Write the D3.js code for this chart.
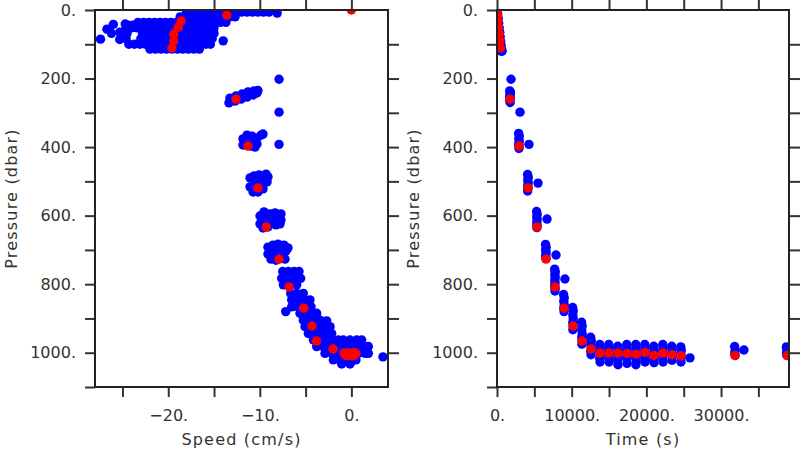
<!DOCTYPE html>
<html><head><meta charset="utf-8">
<script src="https://cdn.jsdelivr.net/npm/d3@7/dist/d3.min.js"></script>
<style>body{margin:0;background:#fff} text{font-family:"DejaVu Sans",sans-serif}</style>
</head><body><svg id="c" width="800" height="450"></svg>
<script>
// ---------- axis ticks / labels ----------
const pressureTicks = [0,100,200,300,400,500,600,700,800,900,1000,1100];
const pressureLabels = [0,200,400,600,800,1000];
const speedTicks = [-25,-20,-15,-10,-5,0];
const speedLabels = [-20,-10,0];
const timeTicks = [0,5000,10000,15000,20000,25000,30000,35000];
const timeLabels = [0,10000,20000,30000];

// ---------- mean (red) points: shared pressure, speed, time ----------
const meanPressure = [0,15,32,50,70,90,111,260,397,519,633,727,808,870,922,966,989,
  1001,1001,1001,1002,1004,999,1008,1001,1006,1009,1008,1008];
const meanSpeed = [0,-13.6,-18.6,-18.9,-19.4,-19.4,-19.6,-12.6,-11.3,-10.2,-9.3,-7.9,-6.8,-5.2,-4.3,-3.8,-2.0,
  -0.8,-0.4,0.0,0.5,-0.5,0.2,-0.3,0.4,-0.1,0.1,-0.6,0.3];
const meanTime = [0,70,140,220,300,380,460,1740,2950,4150,5360,6560,7770,8970,10180,11380,12590,
  13790,15000,16200,17400,18610,19820,21020,22230,23430,24640,31870,38850];

// ---------- individual samples (blue): [speed, pressure] ----------
const speedSamples = [
  [-18.0,6],[-17.4,6],[-16.8,6],[-16.2,6],[-15.6,6],[-15.0,6],[-14.4,6],[-13.8,6],[-13.2,6],[-12.6,6],[-12.0,6],[-11.4,6],[-10.8,6],[-10.2,6],[-9.6,6],[-9.0,6],[-8.1,9],
  [-18.7,20],[-18.1,20],[-17.5,20],[-16.9,20],[-16.3,20],[-15.7,20],[-15.1,20],[-14.5,20],[-13.9,20],[-13.3,20],[-12.7,20],
  [-23.3,36],[-22.7,36],[-22.1,36],[-21.5,36],[-20.9,36],[-20.3,36],[-19.7,36],[-19.1,36],[-18.5,36],[-17.9,36],[-17.3,36],[-16.7,36],[-16.1,36],[-15.5,36],[-14.9,36],[-14.3,36],[-13.7,36],
  [-24.4,44],[-23.9,44],
  [-24.6,52],[-24.0,52],[-23.4,52],[-22.8,52],[-22.2,52],[-21.6,52],[-21.0,52],[-20.4,52],[-19.8,52],[-19.2,52],[-18.6,52],[-18.0,52],[-17.4,52],[-16.8,52],[-16.2,52],[-15.6,52],[-15.0,52],
  [-24.5,68],[-22.8,68],[-22.2,68],[-21.6,68],[-21.0,68],[-20.4,68],[-19.8,68],[-19.2,68],[-18.6,68],[-18.0,68],[-17.4,68],[-16.8,68],[-16.2,68],[-15.6,68],[-15.0,68],
  [-24.6,84],[-23.0,84],[-22.4,84],[-21.8,84],[-21.2,84],[-20.6,84],[-20.0,84],[-19.4,84],[-18.8,84],[-18.2,84],[-17.6,84],[-17.0,84],[-16.4,84],[-15.8,84],[-15.2,84],[-14.0,90],
  [-24.3,100],[-23.7,100],[-23.1,100],[-22.5,100],[-21.9,100],[-21.3,100],[-20.7,100],[-20.1,100],[-19.5,100],[-18.9,100],[-18.3,100],[-17.7,100],[-17.1,100],[-16.5,100],[-15.9,100],[-15.4,100],
  [-22.0,114],[-21.4,114],[-20.8,114],[-20.2,114],[-19.6,114],[-19.0,114],[-18.4,114],[-17.8,114],[-17.2,114],[-16.6,114],
  [-27.4,85],[-26.7,56],[-26.2,68],[-26.0,42],[-25.3,65],[-25.3,86],[-24.7,41],
  [-7.9,202],[-7.9,298],[-7.9,392],
  [-13.26,257],[-12.60,251],[-11.94,245],[-11.29,239],[-10.63,236],[-10.20,235],
  [-13.37,271],[-12.71,266],[-12.05,260],[-11.40,254],[-10.74,248],[-10.31,242],
  [-11.84,394],[-11.84,376],[-11.40,365],[-11.40,385],[-10.96,397],[-10.85,368],[-10.74,382],[-10.31,374],[-10.31,391],[-9.87,365],[-9.65,362],[-10.52,400],
  [-11.07,490],[-11.07,516],[-10.74,531],[-10.63,484],[-10.42,505],[-10.09,481],[-9.87,511],[-9.65,493],[-9.32,479],[-9.21,502],[-10.20,531],[-9.65,522],[-9.11,487],
  [-9.98,601],[-9.98,624],[-9.54,589],[-9.43,613],[-9.11,633],[-8.89,595],[-8.67,616],[-8.34,592],[-8.01,604],[-7.69,595],[-7.69,613],[-8.23,627],[-9.65,636],[-7.79,624],
  [-9.11,692],[-9.11,712],[-8.78,727],[-8.56,686],[-8.34,706],[-8.01,683],[-7.69,697],[-7.36,686],[-7.14,703],[-7.47,718],[-6.92,694],[-8.23,730],[-7.25,727],
  [-7.50,763],[-6.88,763],[-6.26,763],[-5.72,763],
  [-7.61,783],[-6.88,783],[-6.16,783],[-5.54,783],
  [-7.43,802],[-6.70,802],[-5.97,802],
  [-6.63,827],[-5.97,827],[-5.25,827],
  [-6.52,846],[-5.79,846],[-5.06,846],[-4.52,846],
  [-6.52,866],[-5.79,866],[-5.06,866],[-4.41,866],[-7.17,880],
  [-5.61,885],[-4.88,885],[-4.15,885],[-3.79,885],
  [-5.25,905],[-4.52,905],[-3.79,905],[-3.42,905],[-2.70,907],
  [-5.06,924],[-4.34,924],[-3.61,924],[-2.88,924],[-2.33,924],
  [-4.70,944],[-3.97,944],[-3.24,944],[-2.52,944],[-2.15,944],
  [-4.15,963],[-3.42,963],[-2.70,963],[-1.97,963],[-1.42,963],[-0.88,963],[-0.15,963],[0.58,963],[1.13,963],
  [-3.79,982],[-3.06,982],[-2.33,982],[-1.60,982],[-0.88,982],[-0.15,982],[0.58,982],[1.31,982],[1.85,982],
  [-2.88,1002],[-2.15,1002],[-1.42,1002],[-0.70,1002],[0.03,1002],[0.76,1002],[1.49,1002],[1.85,1002],
  [-1.97,1021],[-1.24,1021],[-0.51,1021],[0.22,1021],[0.50,1021],
  [-1.06,1033],[-0.15,1033],
  [3.45,1012]
];

// ---------- individual samples (blue): [time, pressure] ----------
const timeSamples = [
  [30,0],[90,12],[160,25],[230,38],[300,52],[370,65],[430,78],[500,92],[560,104],[620,114],[680,120],[560,120],
  [1700,236],[1780,244],[1720,252],[1780,258],[1700,264],[1760,270],[1740,248],[1800,240],[1880,202],
  [2900,360],[2980,368],[2920,376],[2980,384],[2900,392],[2960,398],[2940,404],[3080,298],
  [4100,480],[4180,488],[4120,496],[4180,504],[4120,512],[4160,520],[4100,528],[4280,392],
  [5300,588],[5380,596],[5320,604],[5380,612],[5320,620],[5360,628],[5340,635],[5490,505],
  [6500,684],[6580,692],[6520,700],[6580,708],[6520,716],[6560,724],[6700,610],
  [7720,756],[7800,764],[7740,772],[7800,780],[7740,788],[7780,796],[7720,804],[7780,812],[7760,820],[7900,715],
  [8920,830],[9000,840],[8940,850],[9000,860],[8940,870],[8980,880],[9100,785],
  [10130,868],[10210,878],[10150,890],[10210,900],[10150,912],[10190,922],[10160,933],
  [11330,911],[11410,922],[11350,934],[11410,945],[11350,955],[11390,965],[11370,975],
  [12540,955],[12620,965],[12560,976],[12620,986],[12560,996],[12590,1006],
  [13760,976],[13820,986],[13760,996],[13820,1006],[13760,1016],[13800,1027],
  [14970,976],[15030,986],[14970,996],[15030,1006],[14970,1016],[15010,1027],
  [16170,981],[16230,991],[16170,1001],[16230,1011],[16170,1021],[16200,1035],
  [17370,976],[17430,986],[17370,996],[17430,1006],[17370,1016],[17410,1031],
  [18580,976],[18640,986],[18580,996],[18640,1006],[18580,1016],[18640,1026],[18600,1035],
  [19790,976],[19850,986],[19790,996],[19850,1006],[19790,1016],[19830,1027],
  [20990,981],[21050,991],[20990,1001],[21050,1011],[20990,1021],[21030,1029],
  [22200,976],[22260,986],[22200,996],[22260,1006],[22200,1016],[22240,1027],
  [23400,981],[23460,991],[23400,1001],[23460,1011],[23430,1022],
  [24610,983],[24670,993],[24610,1003],[24670,1013],[24640,1027],
  [25840,1015],
  [31820,982],[31900,992],[31840,1000],[31880,1008],[33070,992],
  [38750,983],[38820,993],[38770,1001],[38820,1008]
];

// ---------- drawing ----------
const svg = d3.select('#c');
const yTop = 10, yBot = 387, R = 4.7;
const fmt = d => (d < 0 ? '\u2212' : '') + Math.abs(d) + '.';
const y = d3.scaleLinear().domain([0, 1100]).range([yTop, yBot]);

function panel(id, x0, x1, xDomain, xTicks, xLabels, xTitle, blue, redX) {
  const x = d3.scaleLinear().domain(xDomain).range([x0, x1]);
  const g = svg.append('g');
  g.append('clipPath').attr('id', id).append('rect')
    .attr('x', x0).attr('y', yTop).attr('width', x1 - x0).attr('height', yBot - yTop);
  const pts = g.append('g').attr('clip-path', `url(#${id})`);
  pts.selectAll('circle.b').data(blue).join('circle').attr('class', 'b')
    .attr('cx', d => x(d[0])).attr('cy', d => y(d[1])).attr('r', R).attr('fill', '#0000ff');
  pts.selectAll('circle.r').data(meanPressure).join('circle').attr('class', 'r')
    .attr('cx', (d, i) => x(redX[i])).attr('cy', d => y(d)).attr('r', R).attr('fill', '#ff0000');

  const style = s => {
    s.select('.domain').remove();
    s.selectAll('.tick line').attr('stroke', '#333').attr('stroke-width', 2);
    s.selectAll('.tick text').attr('fill', '#333').style('font-size', '16px');
  };
  g.append('g').attr('transform', `translate(${x0},0)`)
    .call(d3.axisLeft(y).tickValues(pressureTicks).tickSize(10).tickPadding(9)
      .tickFormat(d => pressureLabels.includes(d) ? fmt(d) : '')).call(style);
  g.append('g').attr('transform', `translate(${x1},0)`)
    .call(d3.axisRight(y).tickValues(pressureTicks.slice(1, -1)).tickSize(11).tickFormat('')).call(style);
  g.append('g').attr('transform', `translate(0,${yBot})`)
    .call(d3.axisBottom(x).tickValues(xTicks).tickSize(10).tickPadding(13)
      .tickFormat(d => xLabels.includes(d) ? fmt(d) : '')).call(style);
  g.append('g').attr('transform', `translate(0,${yTop})`)
    .call(d3.axisTop(x).tickValues(xTicks).tickSize(10).tickFormat('')).call(style);

  g.append('rect').attr('x', x0).attr('y', yTop).attr('width', x1 - x0).attr('height', yBot - yTop)
    .attr('fill', 'none').attr('stroke', '#222').attr('stroke-width', 2);

  g.append('text').attr('x', (x0 + x1) / 2).attr('y', 445).attr('text-anchor', 'middle')
    .attr('fill', '#333').style('font-size', '16px').style('letter-spacing', '1.2px').text(xTitle);
  g.append('text').attr('transform', `translate(${x0 - 78},${(yTop + yBot) / 2}) rotate(-90)`)
    .attr('text-anchor', 'middle').attr('fill', '#333').style('font-size', '16px')
    .style('letter-spacing', '1.2px').text('Pressure (dbar)');
}

panel('clipL', 95, 388, [-28, 4], speedTicks, speedLabels, 'Speed (cm/s)', speedSamples, meanSpeed);
panel('clipR', 497, 789, [0, 39100], timeTicks, timeLabels, 'Time (s)', timeSamples, meanTime);
</script></body></html>
